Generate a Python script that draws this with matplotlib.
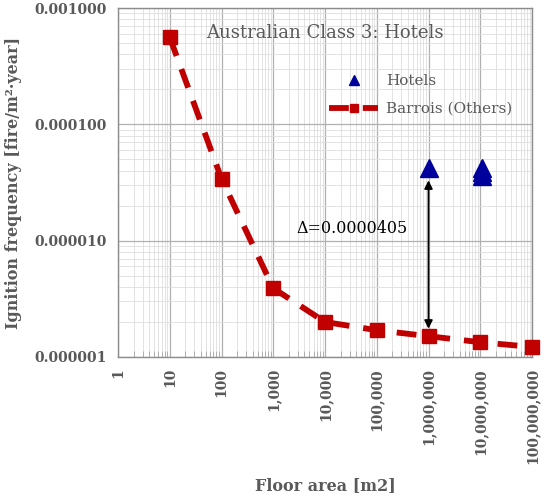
import matplotlib.pyplot as plt
from matplotlib.ticker import FixedLocator, LogLocator, NullFormatter

# Barrois (others) curve
barrois_area = [10, 100, 1000, 1e4, 1e5, 1e6, 1e7, 1e8]
barrois_freq = [5.6e-4, 3.4e-5, 3.9e-6, 2.0e-6, 1.7e-6, 1.51e-6, 1.34e-6, 1.22e-6]

# Australian class 3 hotels
hotel_area = [1e6, 1.1e7, 1.1e7, 1.1e7]
hotel_freq = [4.2e-5, 4.2e-5, 3.9e-5, 3.6e-5]

x_ticks = [1, 10, 100, 1e3, 1e4, 1e5, 1e6, 1e7, 1e8]
x_labels = ["1", "10", "100", "1,000", "10,000", "100,000", "1,000,000",
            "10,000,000", "100,000,000"]
y_ticks = [1e-6, 1e-5, 1e-4, 1e-3]
y_labels = ["0.000001", "0.000010", "0.000100", "0.001000"]

delta_x = 1e6
delta_top = 3.3e-5
delta_bottom = 1.75e-6
delta_text = "Δ=0.0000405"

gray = "#595959"
serif = ["DejaVu Serif"]

fig = plt.figure(figsize=(5.5, 5), dpi=100)
ax = fig.add_axes([118 / 550, 1 - 357 / 500, 414 / 550, 349 / 500])

ax.set_xscale("log")
ax.set_yscale("log")
ax.set_xlim(1, 1e8)
ax.set_ylim(1e-6, 1e-3)

ax.plot(hotel_area, hotel_freq, linestyle="none", marker="^", markersize=13,
        color="#00009C", label="Hotels", zorder=3)
ax.plot(barrois_area, barrois_freq, linestyle=(0, (3.4, 2.4)), linewidth=4.2,
        color="#C00000", marker="s", markersize=10, label="Barrois (Others)",
        zorder=3, clip_on=False)

ax.annotate("", xy=(delta_x, delta_bottom), xytext=(delta_x, delta_top),
            arrowprops=dict(arrowstyle="<|-|>", color="black", lw=1.3,
                            mutation_scale=12, shrinkA=0, shrinkB=0), zorder=4)
ax.text(3.3e4, 1.07e-5, delta_text, fontsize=11.5, family=serif,
        color="black", ha="center", va="bottom")

ax.text(0.5, 0.955, "Australian Class 3: Hotels", transform=ax.transAxes,
        fontsize=13, family=serif, color=gray, ha="center", va="top")

ax.xaxis.set_major_locator(FixedLocator(x_ticks))
ax.set_xticklabels(x_labels, rotation=90, fontsize=10, family=serif,
                   fontweight="bold", color=gray, va="top", ha="center")
ax.xaxis.set_minor_locator(LogLocator(base=10, subs=range(2, 10), numticks=20))
ax.xaxis.set_minor_formatter(NullFormatter())
ax.yaxis.set_major_locator(FixedLocator(y_ticks))
ax.set_yticklabels(y_labels, fontsize=10, family=serif, fontweight="bold",
                   color=gray)
ax.yaxis.set_minor_locator(LogLocator(base=10, subs=range(2, 10), numticks=20))
ax.yaxis.set_minor_formatter(NullFormatter())

ax.tick_params(axis="both", which="major", length=0, pad=8)
ax.tick_params(axis="y", which="minor", length=0)
ax.tick_params(axis="x", which="minor", length=4, color="#A6A6A6",
               direction="in")

ax.grid(True, which="major", color="#B0B0B0", linewidth=0.9)
ax.grid(True, which="minor", color="#DEDEDE", linewidth=0.6)
ax.set_axisbelow(True)
for s in ax.spines.values():
    s.set_color("#8C8C8C")
    s.set_linewidth(1)

ax.set_xlabel("Floor area [m2]", fontsize=11.5, family=serif,
              fontweight="bold", color=gray, labelpad=9)
ax.set_ylabel("Ignition frequency [fire/m\u00b2\u00b7year]", fontsize=11.5,
              family=serif, fontweight="bold", color=gray, labelpad=9)

leg = ax.legend(loc="upper right", bbox_to_anchor=(0.985, 0.85), frameon=False,
                prop={"family": serif, "size": 11}, handlelength=3.2,
                markerscale=0.6, labelspacing=0.9, handletextpad=0.5)
for t in leg.get_texts():
    t.set_color(gray)

fig.savefig("out.png", dpi=100)
